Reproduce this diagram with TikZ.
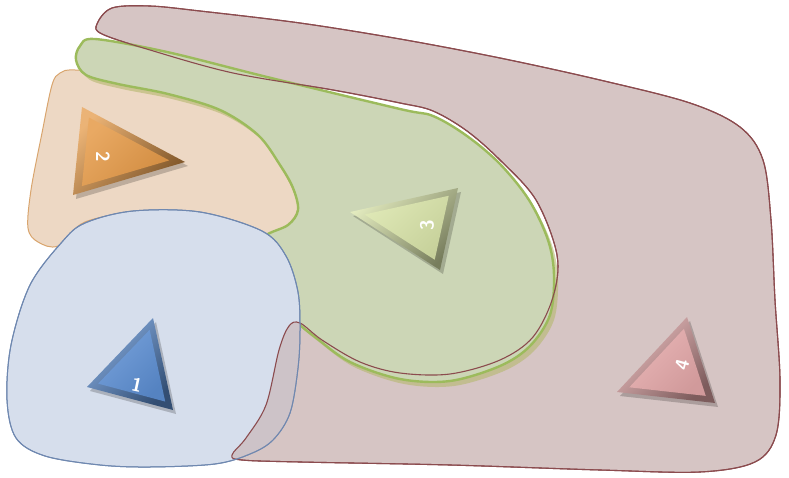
\documentclass[tikz,border=0pt]{standalone}
\usepackage{tikz}
\usetikzlibrary{calc}

\definecolor{fourfill}{HTML}{D6C5C4}
\definecolor{fourline}{HTML}{8B4B4E}
\definecolor{threefill}{HTML}{CCD6B6}
\definecolor{threeline}{HTML}{9CBB5C}
\definecolor{threeshade}{HTML}{B5B86E}
\definecolor{twofill}{HTML}{EDD8C4}
\definecolor{twoline}{HTML}{D9A56E}
\definecolor{onefill}{HTML}{D6DEEC}
\definecolor{oneline}{HTML}{6F88B0}
\definecolor{tri1}{HTML}{5C8ED2}
\definecolor{tri2}{HTML}{E59A48}
\definecolor{tri3}{HTML}{D8E3A8}
\definecolor{tri4}{HTML}{E3A7A8}

% outlines of the four regions
\newcommand{\regionfour}{plot[smooth cycle, tension=0.55] coordinates {
  (97,24) (112,8) (150,6) (200,11) (300,23) (400,39) (500,58) (600,80)
  (690,103) (740,127) (763,160) (771,220) (775,300) (780,380) (776,435)
  (755,462) (700,472) (600,470) (450,465) (300,462) (242,460) (232,455)
  (246,438) (266,405) (279,350) (289,326) (300,323) (322,340) (360,362)
  (400,373) (450,374) (500,360) (533,337) (553,297) (557,255)
  (536,200) (500,160) (467,131) (433,111) (400,103) (333,90) (233,73)
  (150,50) (102,34)}}
\newcommand{\regionthree}{plot[smooth cycle, tension=0.55] coordinates {
  (76,60) (80,46) (95,39) (167,52) (267,77) (400,109) (433,116) (467,136)
  (500,164) (529,200) (548,240) (554,275) (550,315) (530,346) (500,366)
  (450,381) (400,379) (350,362) (315,337) (295,320) (270,290) (255,255)
  (265,236) (288,225) (298,210) (293,188) (280,165) (258,135) (220,110)
  (168,94) (118,84) (86,75)}}
\newcommand{\regiontwo}{plot[smooth cycle, tension=0.55] coordinates {
  (60,73) (75,70) (130,75) (200,95) (250,125) (280,165) (298,205) (285,228)
  (262,240) (200,216) (140,212) (85,222) (58,246) (38,242) (28,228) (31,190)
  (42,133) (52,85)}}
\newcommand{\regionone}{plot[smooth cycle, tension=0.55] coordinates {
  (62,242) (85,223) (133,211) (200,212) (262,231) (286,256) (298,292)
  (300,330) (298,368) (290,413) (273,440) (250,454) (215,464) (150,467)
  (100,465) (45,456) (16,438) (7,400) (11,345) (30,285)}}

\tikzset{
  trilabel/.style={text=white, inner sep=0pt,
    font=\sffamily\bfseries\fontsize{19}{19}\selectfont},
}

\begin{document}
\begin{tikzpicture}[x=1pt, y=-1pt, line join=round]
    \useasboundingbox (0,0) rectangle (789,478);

    % big region 4
    \fill[fourfill] \regionfour;
    \draw[fourline, line width=1.1pt] \regionfour;
    % region 2 sits under 3
    \fill[twofill] \regiontwo;
    \draw[twoline, line width=1pt] \regiontwo;
    % region 3 with its shadow
    \begin{scope}[shift={(4,5)}]
        \fill[threeshade, opacity=0.6] \regionthree;
    \end{scope}
    \fill[threefill] \regionthree;
    \draw[threeline, line width=2.4pt] \regionthree;
    % edge of 4 shows again around 3
    \draw[fourline, line width=1.1pt] \regionfour;
    % region 1
    \fill[onefill] \regionone;
    \draw[oneline, line width=1pt] \regionone;
    % tail of 4 runs over 1
    \begin{scope}
        \clip \regionone;
        \fill[fourfill!80!fourline, opacity=0.55] \regionfour;
        \draw[fourline, line width=1.1pt] \regionfour;
    \end{scope}
    \draw[oneline, line width=1pt] \regionone;

    % corners of the bevelled triangles
    \coordinate (t1-a) at (153,318); \coordinate (t1-b) at (173,410); \coordinate (t1-c) at (87,387);
    \coordinate (t2-a) at (82,107);  \coordinate (t2-b) at (185,162); \coordinate (t2-c) at (73,195);
    \coordinate (t3-a) at (350,212); \coordinate (t3-b) at (458,188); \coordinate (t3-c) at (440,270);
    \coordinate (t4-a) at (687,317); \coordinate (t4-b) at (715,403); \coordinate (t4-c) at (617,392);

    \foreach \n/\col/\rot/\lx/\ly in {1/tri1/-12/137/385, 2/tri2/-90/103/157,
                                      3/tri3/90/427/225, 4/tri4/75/682/365}{
        \coordinate (t\n-o) at (barycentric cs:t\n-a=1,t\n-b=1,t\n-c=1);
        % drop shadow
        \fill[black, opacity=0.2] ($(t\n-a)+(3,4)$) -- ($(t\n-b)+(3,4)$) -- ($(t\n-c)+(3,4)$) -- cycle;
        % rim, light at the upper left and dark at the lower right
        \shade[top color=\col!75!white, middle color=\col!85!black, bottom color=\col!55!black,
               shading angle=45]
            (t\n-a) -- (t\n-b) -- (t\n-c) -- cycle;
        % face
        \shade[top color=\col!85!white, bottom color=\col!92!black, shading angle=45]
            ($(t\n-o)!0.78!(t\n-a)$) -- ($(t\n-o)!0.78!(t\n-b)$) -- ($(t\n-o)!0.78!(t\n-c)$) -- cycle;
        \node[trilabel, rotate=\rot] (lab\n) at (\lx,\ly) {\n};
    }
\end{tikzpicture}
\end{document}
